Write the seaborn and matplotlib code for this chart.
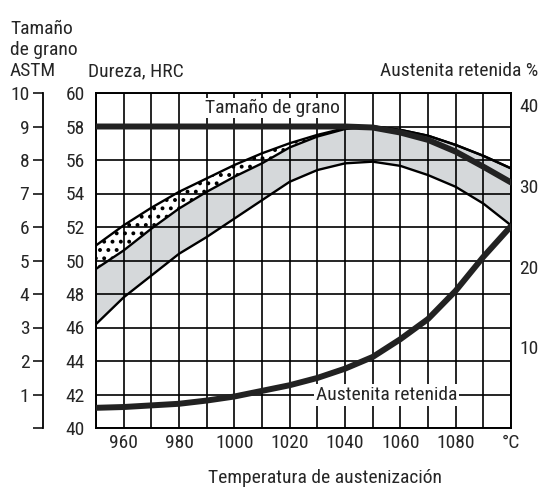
import seaborn as sns
import numpy as np
import matplotlib.pyplot as plt
import matplotlib.font_manager as fm

# Data
temp = np.array([950, 960, 970, 980, 990, 1000, 1010, 1020, 1030, 1040, 1050, 1060, 1070, 1080, 1090, 1100])

# hardness band (HRC)
hrc_top = np.array([50.9, 52.1, 53.15, 54.1, 54.9, 55.7, 56.4, 57.0, 57.5, 57.9, 58.0, 57.8, 57.45, 56.9, 56.25, 55.5])
hrc_mid = np.array([49.5, 50.6, 51.9, 53.1, 54.1, 55.0, 55.8, 56.75, 57.4, 57.85, 58.0, 57.8, 57.45, 56.9, 56.25, 55.5])
hrc_low = np.array([46.2, 47.8, 49.1, 50.4, 51.4, 52.5, 53.6, 54.7, 55.4, 55.8, 55.9, 55.65, 55.1, 54.4, 53.4, 52.1])

# grain size (ASTM)
grain = np.array([9.0, 9.0, 9.0, 9.0, 9.0, 9.0, 9.0, 9.0, 9.0, 9.0, 8.97, 8.82, 8.6, 8.25, 7.8, 7.33])

# retained austenite (%)
austenite = np.array([2.5, 2.6, 2.8, 3.0, 3.4, 3.9, 4.6, 5.3, 6.2, 7.35, 8.8, 11.0, 13.5, 17.0, 21.2, 25.0])

xtick_vals = list(range(950, 1101, 10))
xtick_labels = ['' if t % 20 else str(t) for t in xtick_vals]
xtick_labels[-1] = '°C'

sns.set_style("white")
names = {f.name for f in fm.fontManager.ttflist}
fam = [f for f in ['Liberation Sans Narrow', 'Roboto Condensed', 'Roboto', 'DejaVu Sans'] if f in names]
plt.rcParams['font.family'] = fam
plt.rcParams['hatch.linewidth'] = 1.6
FS = 14

fig = plt.figure(figsize=(5.41, 4.88), dpi=100)
ax = fig.add_axes([96 / 541, 1 - 428 / 488, 415 / 541, 335 / 488])

# band fills
ax.fill_between(temp, hrc_low, hrc_mid, color='#d5d8da', linewidth=0, zorder=1)
ax.fill_between(temp, hrc_mid, hrc_top, facecolor='white', edgecolor='black', hatch='..', linewidth=0, zorder=1)
for curve in [hrc_top, hrc_mid, hrc_low]:
    sns.lineplot(x=temp, y=curve, ax=ax, color='black', linewidth=1.7, zorder=4)

ax.set_xlim(950, 1100)
ax.set_ylim(40, 60)
ax.set_xticks(xtick_vals)
ax.set_xticklabels(xtick_labels, fontsize=FS)
ax.set_yticks(range(40, 61, 2))
ax.set_yticklabels([str(v) for v in range(40, 61, 2)], fontsize=FS)
ax.tick_params(axis='y', length=0, pad=8)
ax.tick_params(axis='x', length=0, pad=4)
ax.grid(True, color='black', linewidth=1.2)
ax.set_axisbelow(False)
for s in ax.spines.values():
    s.set_color('black')
    s.set_linewidth(1.4)
ax.set_xlabel('')
ax.set_ylabel('')

# grain size axis (ASTM)
ax_g = ax.twinx()
sns.lineplot(x=temp, y=grain, ax=ax_g, color='#222222', linewidth=4.3)
ax_g.set_ylim(0, 10)
ax_g.yaxis.tick_left()
ax_g.spines['left'].set_visible(True)
ax_g.spines['left'].set_position(('outward', 38))
ax_g.spines['left'].set_linewidth(1.3)
ax_g.spines['left'].set_color('black')
for s in ['top', 'right', 'bottom']:
    ax_g.spines[s].set_visible(False)
ax_g.set_yticks(range(0, 11))
ax_g.set_yticklabels([''] + [str(v) for v in range(1, 11)], fontsize=FS)
ax_g.tick_params(axis='y', direction='out', length=7, width=1.3, pad=3, left=True, right=False)
ax_g.set_ylabel('')

# retained austenite axis (%)
ax_r = ax.twinx()
sns.lineplot(x=temp, y=austenite, ax=ax_r, color='#222222', linewidth=4.3)
ax_r.set_ylim(0, 41.5)
ax_r.set_yticks([10, 20, 30, 40])
ax_r.set_yticklabels(['10', '20', '30', '40'], fontsize=FS)
ax_r.tick_params(axis='y', length=0, pad=6)
for s in ax_r.spines.values():
    s.set_visible(False)
ax_r.set_ylabel('')

# curve labels
ax.text(1013.6, 58.8, 'Tamaño de grano', fontsize=FS, ha='center', va='baseline', zorder=5,
        bbox=dict(facecolor='white', edgecolor='none', pad=0.5))
ax.text(1055, 41.67, 'Austenita retenida', fontsize=FS, ha='center', va='baseline', zorder=5,
        bbox=dict(facecolor='white', edgecolor='none', pad=1.5))

# axis titles
fig.text(10 / 541, 1 - 76 / 488, 'Tamaño\nde grano\nASTM', fontsize=FS, ha='left', va='baseline', linespacing=1.2)
fig.text(88 / 541, 1 - 76 / 488, 'Dureza, HRC', fontsize=FS, ha='left', va='baseline')
fig.text(538 / 541, 1 - 76 / 488, 'Austenita retenida %', fontsize=FS, ha='right', va='baseline')
fig.text(325 / 541, 1 - 483 / 488, 'Temperatura de austenización', fontsize=FS, ha='center', va='baseline')

fig.savefig('out.png', dpi=100)
